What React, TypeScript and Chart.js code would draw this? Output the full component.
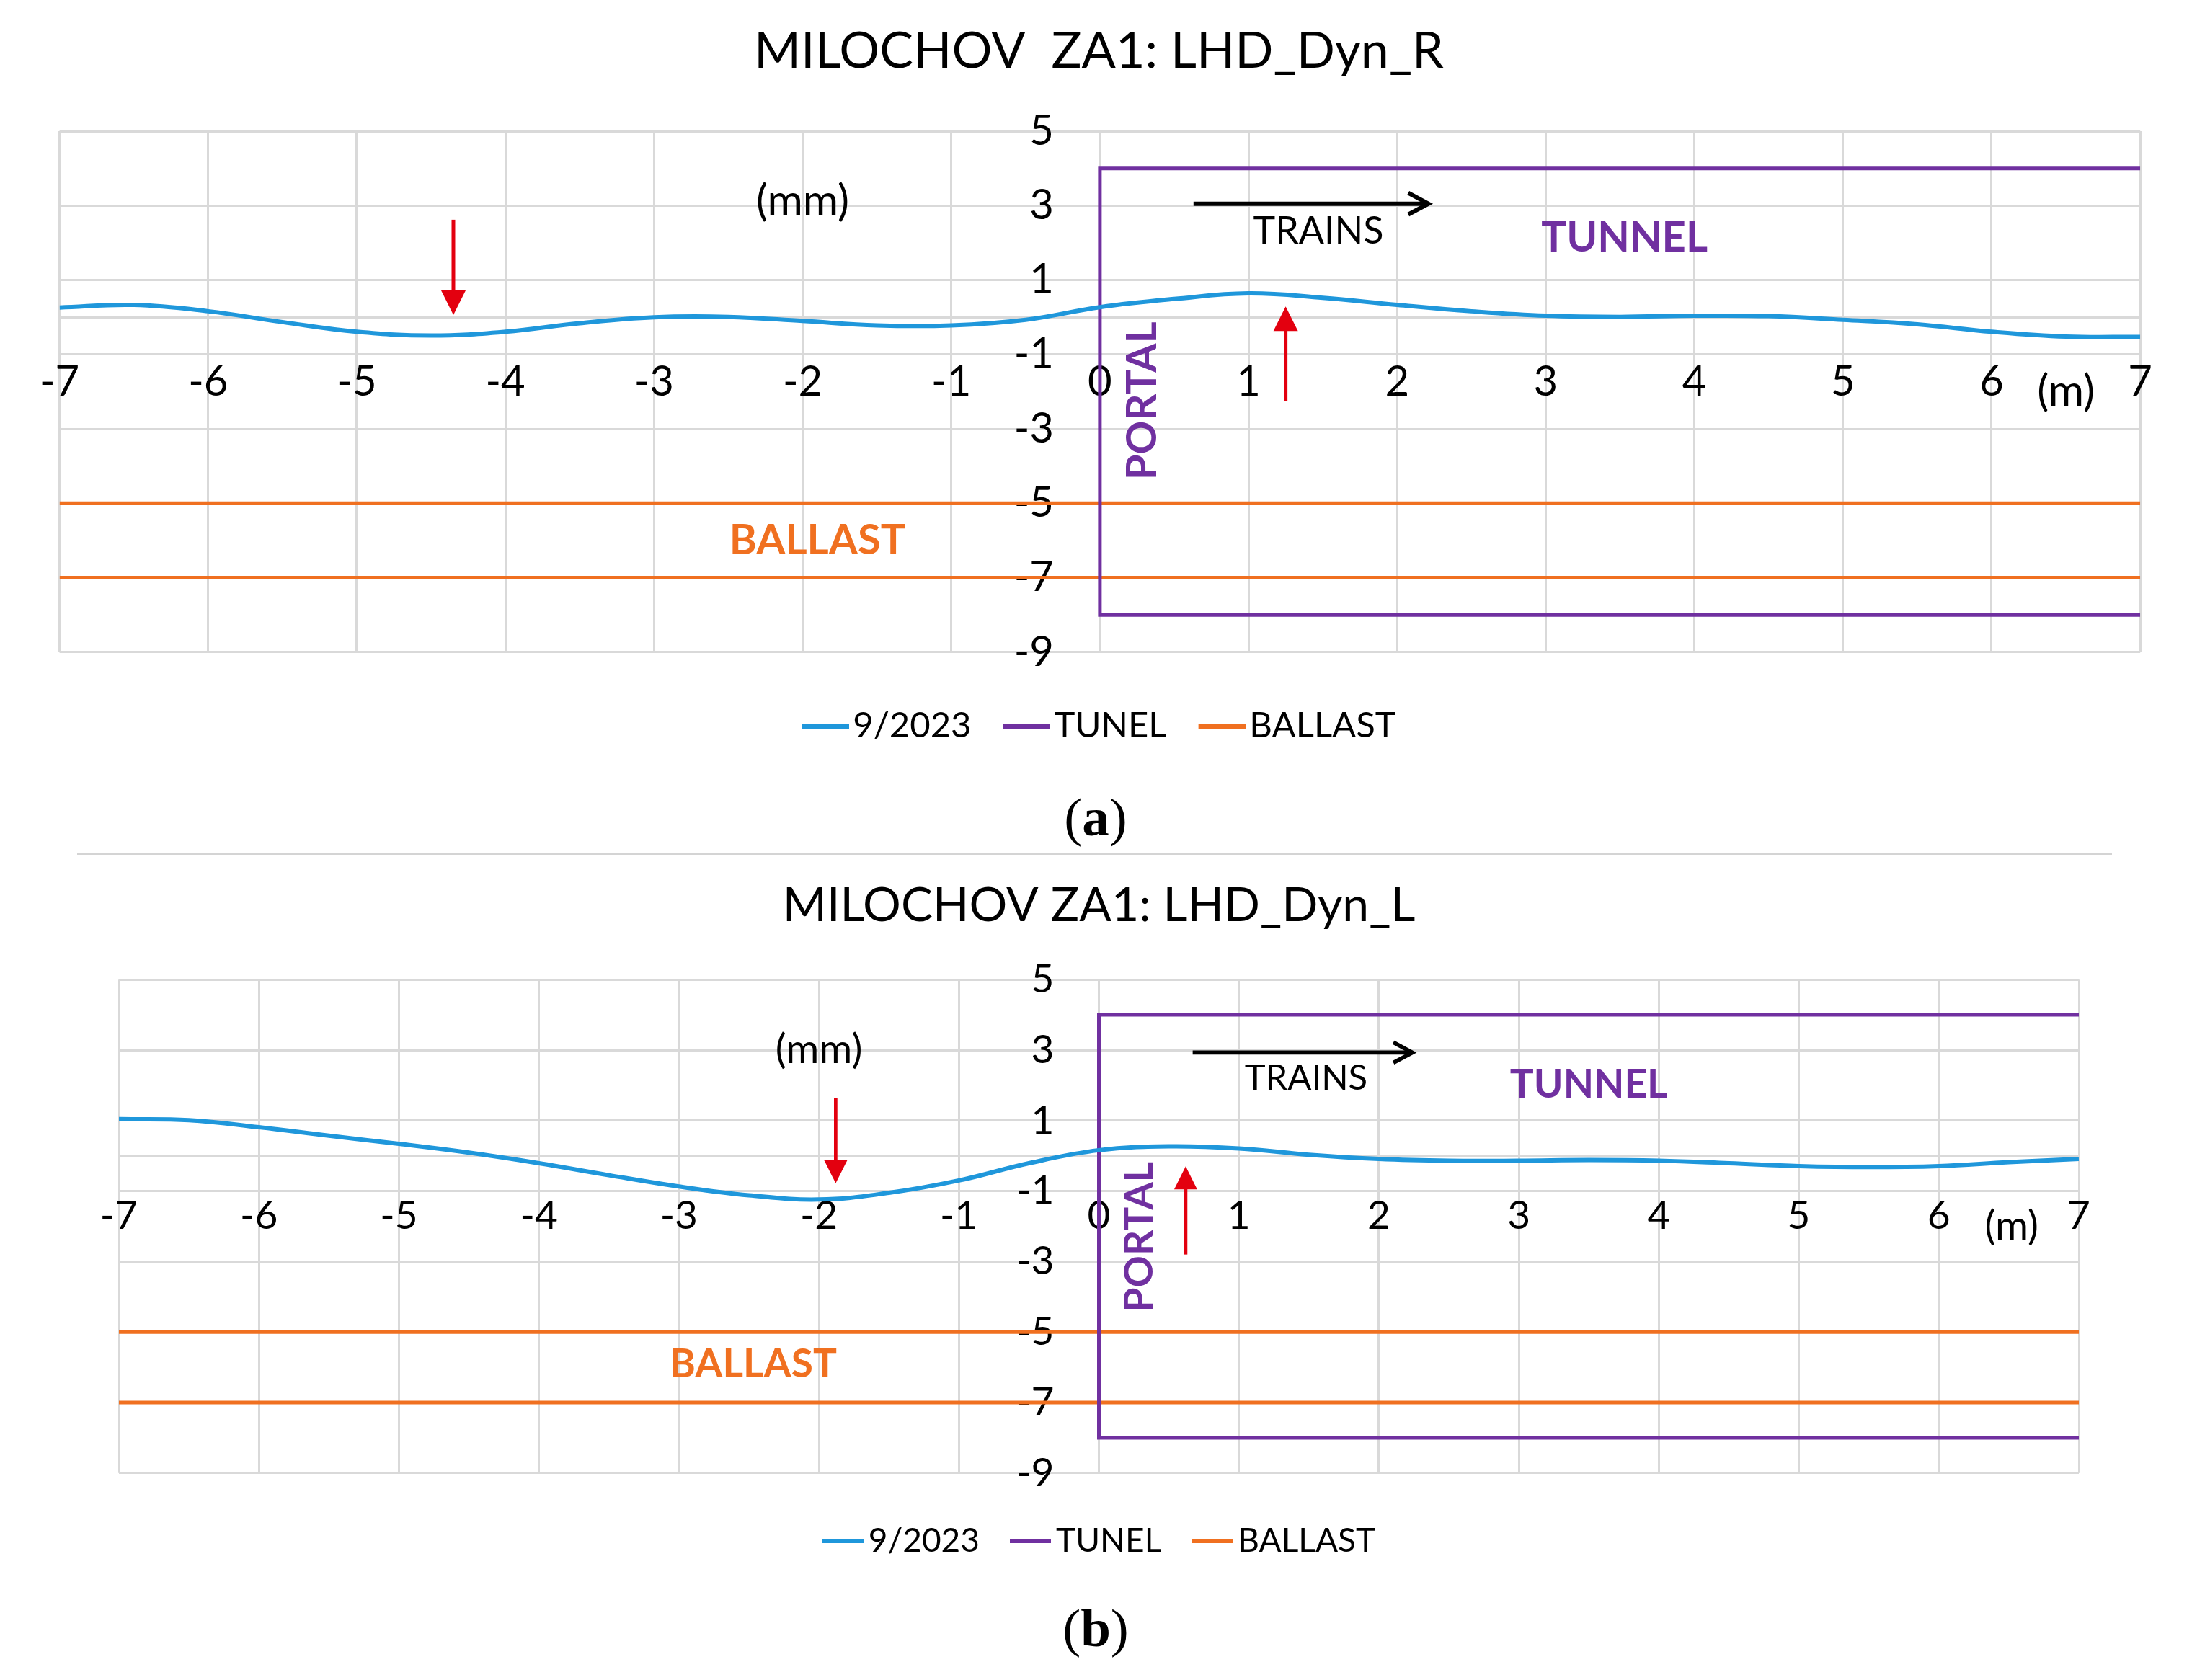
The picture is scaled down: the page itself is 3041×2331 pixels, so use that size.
import React, { useEffect, useRef } from 'react';
import { Chart, registerables } from 'chart.js';

Chart.register(...registerables);

// ---------------- data ----------------
const X_POSITIONS = [-7, -6.5, -6, -5.5, -5, -4.5, -4, -3.5, -3, -2.5, -2, -1.5, -1, -0.5, 0, 0.5, 1, 1.5, 2, 2.5, 3, 3.5, 4, 4.5, 5, 5.5, 6, 6.5, 7];
const SERIES_R = [0.26, 0.33, 0.16, -0.13, -0.39, -0.49, -0.39, -0.16, 0.0, 0.01, -0.1, -0.22, -0.22, -0.07, 0.27, 0.49, 0.64, 0.52, 0.33, 0.16, 0.04, 0.01, 0.04, 0.03, -0.07, -0.19, -0.39, -0.52, -0.53];
const SERIES_L = [1.04, 1.01, 0.81, 0.57, 0.34, 0.09, -0.21, -0.55, -0.87, -1.12, -1.24, -1.05, -0.7, -0.21, 0.16, 0.27, 0.21, 0.03, -0.09, -0.14, -0.14, -0.12, -0.14, -0.21, -0.29, -0.32, -0.29, -0.18, -0.09];
const TUNNEL_X = [7, 0, 0, 7];
const TUNNEL_Y = [4, 4, -8, -8];
const BALLAST_LEVELS = [-5, -7];
const X_RANGE = [-7, 7];
const Y_RANGE = [-9, 5];
const X_STEP = 1;
const Y_STEP = 2;
const SERIES_LABELS = ['9/2023', 'TUNEL', 'BALLAST'];
const TITLE_R = 'MILOCHOV  ZA1: LHD_Dyn_R';
const TITLE_L = 'MILOCHOV ZA1: LHD_Dyn_L';
const CAPTION_LETTERS = ['a', 'b'];

// annotation anchors (data units)
const ARROWS_R = [
  { kind: 'red', x1: -4.35, y1: 2.62, x2: -4.35, y2: 0.06 },
  { kind: 'red', x1: 1.25, y1: -2.25, x2: 1.25, y2: 0.29 },
  { kind: 'black', x1: 0.63, y1: 3.05, x2: 2.23, y2: 3.05 },
];
const LABELS_R = [
  { text: '(mm)', kind: 'unit', x: -2.0, y: 3.1 },
  { text: '(m)', kind: 'unit', x: 6.5, y: -2.0 },
  { text: 'TRAINS', kind: 'note', x: 1.47, y: 2.3 },
  { text: 'TUNNEL', kind: 'tunnel', x: 3.53, y: 2.12 },
  { text: 'PORTAL', kind: 'portal', x: 0.29, y: -2.25 },
  { text: 'BALLAST', kind: 'ballast', x: -1.9, y: -6.0 },
];
const ARROWS_L = [
  { kind: 'red', x1: -1.88, y1: 1.63, x2: -1.88, y2: -0.78 },
  { kind: 'red', x1: 0.62, y1: -2.8, x2: 0.62, y2: -0.3 },
  { kind: 'black', x1: 0.67, y1: 2.93, x2: 2.26, y2: 2.93 },
];
const LABELS_L = [
  { text: '(mm)', kind: 'unit', x: -2.0, y: 3.0 },
  { text: '(m)', kind: 'unit', x: 6.52, y: -2.0 },
  { text: 'TRAINS', kind: 'note', x: 1.48, y: 2.2 },
  { text: 'TUNNEL', kind: 'tunnel', x: 3.5, y: 2.02 },
  { text: 'PORTAL', kind: 'portal', x: 0.29, y: -2.3 },
  { text: 'BALLAST', kind: 'ballast', x: -2.47, y: -5.93 },
];

// ---------------- styles ----------------
const W = 3041;
const H = 2331;
const FONT = "Lato, 'Open Sans', sans-serif";
const COLORS = {
  blue: '#1f97db',
  purple: '#7030a0',
  orange: '#f07020',
  red: '#e3000f',
  black: '#000000',
  grid: '#d9d9d9',
  text: '#000000',
};
const ARROW_STYLES: Record<string, any> = {
  red: { color: COLORS.red, width: 5, headLen: 34, headHalf: 17, filled: true },
  black: { color: COLORS.black, width: 6, headLen: 28, headHalf: 15, filled: false },
};
const LABEL_STYLES: Record<string, any> = {
  unit: { size: 60, weight: 'normal', color: COLORS.text, rotate: 0 },
  note: { size: 52, weight: 'normal', color: COLORS.text, rotate: 0 },
  tunnel: { size: 58, weight: 'bold', color: COLORS.purple, rotate: 0 },
  ballast: { size: 58, weight: 'bold', color: COLORS.orange, rotate: 0 },
  portal: { size: 58, weight: 'bold', color: COLORS.purple, rotate: -Math.PI / 2 },
};

const PANELS = [
  {
    title: TITLE_R, values: SERIES_R, arrows: ARROWS_R, labels: LABELS_R,
    top: 0, height: 1042, padL: 76, padR: 68,
    titleSize: 70, titlePadTop: 29, titlePadBottom: 69,
    tickSize: 58, tickPad: 55, yAxisAt: -0.31,
    legendSize: 49, legendPad: 44, legendGap: 33, lineLen: 65, lineGap: 6, lineThick: 6,
    k: 1,
  },
  {
    title: TITLE_L, values: SERIES_L, arrows: ARROWS_L, labels: LABELS_L,
    top: 1190, height: 981, padL: 165, padR: 157,
    titleSize: 66, titlePadTop: 27, titlePadBottom: 63,
    tickSize: 55, tickPad: 51, yAxisAt: -0.32,
    legendSize: 46, legendPad: 42, legendGap: 28, lineLen: 57, lineGap: 7, lineThick: 6,
    k: 0.94,
  },
];

// legend line sample rendered as an image so the text can sit close to it
function legendSample(color: string, panel: any) {
  const f = panel.legendSize;
  const L = panel.lineLen;
  const pw = L + panel.lineGap - f / 2;
  const imgW = Math.round(2 * L - pw);
  const c = document.createElement('canvas');
  c.width = imgW;
  c.height = panel.lineThick;
  const g = c.getContext('2d')!;
  g.fillStyle = color;
  g.fillRect(imgW - L, 0, L, panel.lineThick);
  return { canvas: c, pointWidth: pw };
}

function makeAnnotationPlugin(panel: any) {
  return {
    id: 'figureAnnotations',
    afterDatasetsDraw(chart: any) {
      const { ctx } = chart;
      const xs = chart.scales.x;
      const ys = chart.scales.y;
      const k = panel.k;
      ctx.save();
      panel.arrows.forEach((a: any) => {
        const st = ARROW_STYLES[a.kind];
        const x1 = xs.getPixelForValue(a.x1);
        const y1 = ys.getPixelForValue(a.y1);
        const x2 = xs.getPixelForValue(a.x2);
        const y2 = ys.getPixelForValue(a.y2);
        const ang = Math.atan2(y2 - y1, x2 - x1);
        const c = Math.cos(ang);
        const s = Math.sin(ang);
        const hl = st.headLen * k;
        const hh = st.headHalf * k;
        ctx.strokeStyle = st.color;
        ctx.fillStyle = st.color;
        ctx.lineWidth = st.width * k;
        ctx.lineCap = 'butt';
        if (st.filled) {
          const bx = x2 - hl * c;
          const by = y2 - hl * s;
          ctx.beginPath();
          ctx.moveTo(x1, y1);
          ctx.lineTo(bx + 2 * c, by + 2 * s);
          ctx.stroke();
          ctx.beginPath();
          ctx.moveTo(x2, y2);
          ctx.lineTo(bx + hh * s, by - hh * c);
          ctx.lineTo(bx - hh * s, by + hh * c);
          ctx.closePath();
          ctx.fill();
        } else {
          const tipX = x2 - 4 * c;
          const tipY = y2 - 4 * s;
          ctx.beginPath();
          ctx.moveTo(x1, y1);
          ctx.lineTo(tipX, tipY);
          ctx.stroke();
          const bx = tipX - hl * c;
          const by = tipY - hl * s;
          ctx.lineJoin = 'miter';
          ctx.beginPath();
          ctx.moveTo(bx + hh * s, by - hh * c);
          ctx.lineTo(tipX, tipY);
          ctx.lineTo(bx - hh * s, by + hh * c);
          ctx.stroke();
        }
      });
      panel.labels.forEach((l: any) => {
        const st = LABEL_STYLES[l.kind];
        const px = xs.getPixelForValue(l.x);
        const py = ys.getPixelForValue(l.y);
        ctx.save();
        ctx.translate(px, py);
        if (st.rotate) ctx.rotate(st.rotate);
        ctx.font = `${st.weight} ${Math.round(st.size * k)}px ${FONT}`;
        ctx.fillStyle = st.color;
        ctx.textAlign = 'center';
        ctx.textBaseline = 'middle';
        ctx.fillText(l.text, 0, 0);
        ctx.restore();
      });
      ctx.restore();
    },
  };
}

function buildDatasets(values: number[]) {
  const blue = X_POSITIONS.map((x, i) => ({ x, y: values[i] }));
  const tunnel = TUNNEL_X.map((x, i) => ({ x, y: TUNNEL_Y[i] }));
  const ballast: any[] = [];
  BALLAST_LEVELS.forEach((lv, i) => {
    if (i > 0) ballast.push({ x: X_RANGE[1], y: null });
    ballast.push({ x: X_RANGE[0], y: lv }, { x: X_RANGE[1], y: lv });
  });
  return [
    { label: SERIES_LABELS[0], data: blue, borderColor: COLORS.blue, backgroundColor: COLORS.blue, borderWidth: 6, tension: 0.4, pointRadius: 0 },
    { label: SERIES_LABELS[1], data: tunnel, borderColor: COLORS.purple, backgroundColor: COLORS.purple, borderWidth: 5, tension: 0, pointRadius: 0 },
    { label: SERIES_LABELS[2], data: ballast, borderColor: COLORS.orange, backgroundColor: COLORS.orange, borderWidth: 5, tension: 0, pointRadius: 0, spanGaps: false },
  ];
}

function makeConfig(panel: any): any {
  const datasets = buildDatasets(panel.values);
  const samples = datasets.map((ds) => legendSample(ds.borderColor, panel));
  return {
    type: 'line',
    data: { datasets },
    plugins: [makeAnnotationPlugin(panel)],
    options: {
      animation: false,
      responsive: false,
      devicePixelRatio: 1,
      events: [],
      layout: { padding: { left: panel.padL, right: panel.padR, top: 0, bottom: 0 } },
      scales: {
        x: {
          type: 'linear',
          min: X_RANGE[0],
          max: X_RANGE[1],
          position: { y: 0 },
          grid: { color: COLORS.grid, lineWidth: 3, drawTicks: false },
          border: { display: true, color: COLORS.grid, width: 3 },
          ticks: {
            stepSize: X_STEP,
            autoSkip: false,
            maxRotation: 0,
            padding: panel.tickPad,
            color: COLORS.text,
            font: { family: FONT, size: panel.tickSize },
          },
        },
        y: {
          type: 'linear',
          min: Y_RANGE[0],
          max: Y_RANGE[1],
          position: { x: panel.yAxisAt },
          grid: { color: COLORS.grid, lineWidth: 3, drawTicks: false },
          border: { display: false },
          ticks: {
            stepSize: Y_STEP,
            autoSkip: false,
            padding: 0,
            color: COLORS.text,
            font: { family: FONT, size: panel.tickSize },
          },
        },
      },
      plugins: {
        tooltip: { enabled: false },
        title: {
          display: true,
          text: panel.title,
          color: COLORS.text,
          font: { family: FONT, size: panel.titleSize, weight: 'normal' },
          padding: { top: panel.titlePadTop, bottom: panel.titlePadBottom },
        },
        legend: {
          display: true,
          position: 'bottom',
          align: 'center',
          title: { display: true, text: '', font: { size: 1 }, padding: { top: 0, bottom: panel.legendGap } },
          labels: {
            usePointStyle: true,
            pointStyleWidth: samples[0].pointWidth,
            boxHeight: panel.lineThick,
            padding: panel.legendPad,
            color: COLORS.text,
            font: { family: FONT, size: panel.legendSize },
            generateLabels: (chart: any) =>
              chart.data.datasets.map((ds: any, i: number) => ({
                text: ds.label,
                fillStyle: ds.borderColor,
                strokeStyle: ds.borderColor,
                lineWidth: 0,
                pointStyle: samples[i].canvas,
                hidden: false,
                datasetIndex: i,
                fontColor: COLORS.text,
              })),
          },
        },
      },
    },
  };
}

function ChartPanel({ panel }: { panel: any }) {
  const ref = useRef<HTMLCanvasElement | null>(null);
  useEffect(() => {
    if (!ref.current) return;
    const chart = new Chart(ref.current, makeConfig(panel));
    return () => chart.destroy();
  }, [panel]);
  return (
    <canvas
      ref={ref}
      width={W}
      height={panel.height}
      style={{ position: 'absolute', left: 0, top: panel.top, width: W, height: panel.height }}
    />
  );
}

const captionStyle = (centerY: number): React.CSSProperties => ({
  position: 'absolute',
  left: 0,
  width: 3040,
  top: centerY - 55,
  height: 100,
  lineHeight: '100px',
  textAlign: 'center',
  fontFamily: "'Liberation Serif', 'DejaVu Serif', serif",
  fontWeight: 'normal',
  fontSize: 75,
  color: '#000',
});

function Caption({ letter, centerY }: { letter: string; centerY: number }) {
  return (
    <div style={captionStyle(centerY)}>
      (<span style={{ fontWeight: 'bold' }}>{letter}</span>)
    </div>
  );
}

export default function App() {
  return (
    <div style={{ position: 'absolute', left: 0, top: 0, width: W, height: H, background: '#fff', overflow: 'hidden' }}>
      <ChartPanel panel={PANELS[0]} />
      <Caption letter={CAPTION_LETTERS[0]} centerY={1139} />
      <div style={{ position: 'absolute', left: 107, top: 1184, width: 2823, height: 3, background: '#d4d4d4' }} />
      <ChartPanel panel={PANELS[1]} />
      <Caption letter={CAPTION_LETTERS[1]} centerY={2264} />
    </div>
  );
}
